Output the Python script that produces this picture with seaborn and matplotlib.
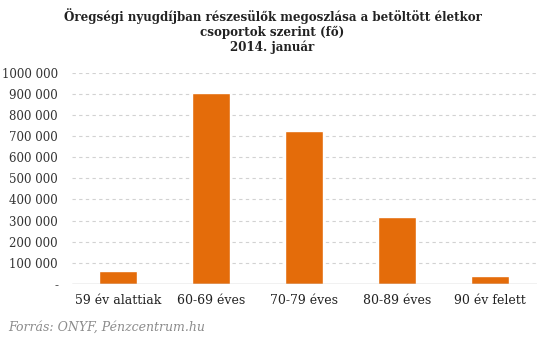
import matplotlib
matplotlib.use("Agg")
import matplotlib.pyplot as plt
import seaborn as sns
import pandas as pd

categories = ["59 év alattiak", "60-69 éves", "70-79 éves", "80-89 éves", "90 év felett"]
values = [61000, 904000, 722000, 315000, 39000]
tick_values = [0, 100000, 200000, 300000, 400000, 500000, 600000, 700000, 800000, 900000, 1000000]
tick_labels = ["-", "100 000", "200 000", "300 000", "400 000", "500 000",
               "600 000", "700 000", "800 000", "900 000", "1000 000"]
title = "Öregségi nyugdíjban részesülők megoszlása a betöltött életkor\ncsoportok szerint (fő)\n2014. január"
source = "Forrás: ONYF, Pénzcentrum.hu"

sns.set_theme(style="white")
plt.rcParams["font.family"] = ["DejaVu Serif"]

df = pd.DataFrame({"group": categories, "count": values})

fig = plt.figure(figsize=(5.45, 3.41), dpi=100)
ax = fig.add_axes([0.132, 0.167, 0.853, 0.62])

sns.barplot(data=df, x="group", y="count", color="#E46C0A", saturation=1,
            width=0.41, ax=ax, zorder=3)

ax.set_ylim(0, 1000000)
ax.set_yticks(tick_values)
ax.set_yticklabels(tick_labels, fontsize=8.5, color="#333333")
ax.tick_params(axis="y", length=0, pad=10)
ax.tick_params(axis="x", length=0, pad=7, labelsize=9, colors="#222222")
ax.set_xlabel("")
ax.set_ylabel("")
for s in ax.spines.values():
    s.set_visible(False)

for t in tick_values[1:]:
    ax.axhline(t, color="#D2D2D2", lw=0.8, ls=(0, (3, 3)), zorder=1)
ax.axhline(0, color="#BBBBBB", lw=1.0, zorder=4)

fig.text(0.5, 0.975, title, ha="center", va="top", fontsize=8.6, fontweight="bold",
         color="#222222", linespacing=1.15)
fig.text(0.015, 0.04, source, ha="left", va="center", fontsize=9,
         style="italic", color="#8C8C8C")

fig.savefig("out.png", dpi=100)
